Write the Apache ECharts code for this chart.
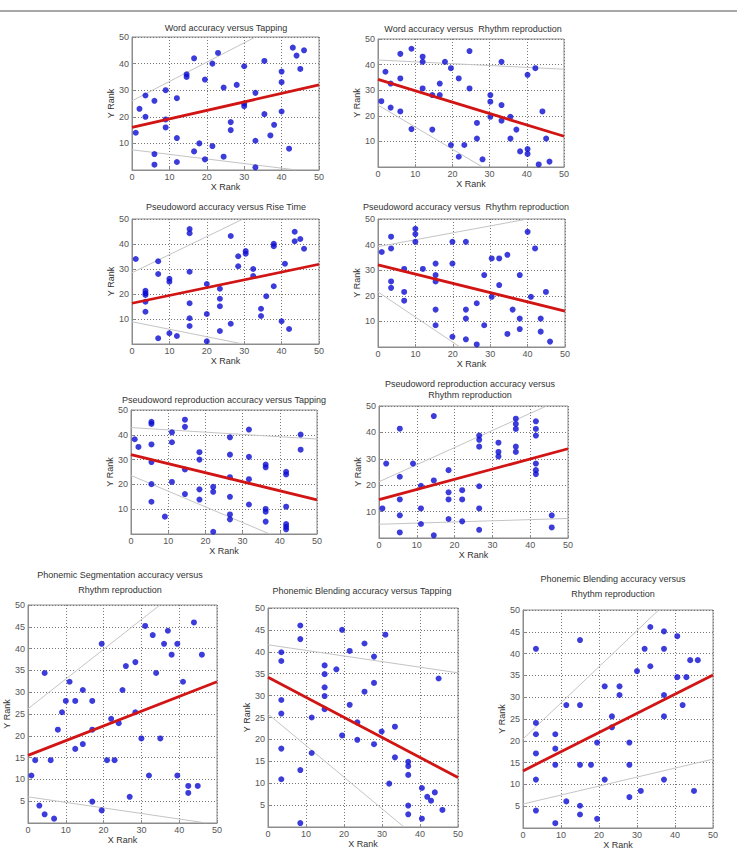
<!DOCTYPE html>
<html>
<head>
<meta charset="utf-8">
<title>Rank correlations</title>
<script src="https://cdn.jsdelivr.net/npm/echarts@6/dist/echarts.min.js"></script>
<style>
  html, body { margin: 0; padding: 0; background: #fff; }
  #main { width: 737px; height: 860px; }
</style>
</head>
<body>
<div id="main"></div>
<script>
// points are [x rank, y rank]
const wordTap = [[1,14],[2,23],[3.6,28],[3.6,20],[6,26],[6,6],[6,2],[9,30],[9,19],[9,16],[12,27],[12,12],[12,3],
  [14.6,36],[14.6,35],[16.6,42],[16.6,7],[18,10],[19.5,34],[19.5,4],[21.5,40],[21.5,9],[23,44],[24.5,31],[24.5,5],
  [26.4,18],[26.4,15],[28,32],[30,39],[30,25],[30,24],[33,29],[33,11],[33,1],[35.4,41],[35.4,21],[37,13],[38,17],
  [40,37],[40,33],[40,22],[42,8],[43,46],[44,43],[45,38],[46,45]];
const wordRhythm = [[0.9,25.7],[2,37.2],[3.4,32.6],[3.4,23.2],[6,44.2],[6,34.6],[6,21.7],[9,46.2],[9,14.8],
  [12,43.1],[12,41.1],[12,30.7],[14.6,28.1],[14.6,14.6],[16.6,32.6],[16.6,28.1],[18,41.1],[19.6,38.6],[19.6,8.6],
  [21.7,34.6],[21.7,4],[23.2,8.6],[24.6,45.3],[24.6,30.7],[26.6,17.2],[26.6,11.1],[28.1,3],[30.2,28.1],[30.2,25.5],
  [30.2,19.6],[33.2,41.1],[33.2,24.2],[33.2,18.1],[35.6,19.6],[35.6,11.1],[37.2,14.6],[38.2,6.1],[40.2,36],
  [40.2,7],[40.2,5.1],[42.3,38.6],[43.2,1],[44.2,21.7],[45.2,11.1],[46.1,2.1]];
const pseudoRise = [[1,34],[3.6,21.3],[3.6,20.3],[3.6,19.6],[3.6,16.9],[3.6,12.9],[7,33.1],[7,28],[7,2.3],
  [10,26.1],[10,24.9],[10,4.3],[12,3.2],[15.4,46],[15.4,44.3],[15.4,28.9],[15.4,16.3],[15.4,10.3],[15.4,7.2],
  [20,24],[20,12],[20,1.1],[23.5,22.1],[23.5,18.1],[23.5,15.1],[23.5,5.2],[26.4,43.2],[26.4,8.1],[28.4,35.1],
  [28.4,31.1],[30.4,37.2],[30.4,36.1],[32.4,30],[32.4,27.2],[34.5,14.1],[34.5,11.2],[35.9,19.1],[37.9,23.1],
  [37.9,40.1],[37.9,39.1],[40,9.1],[40.9,32.1],[42,6],[43.5,44.9],[43.5,41.1],[45,42],[46,38.1]];
const pseudoRhythm = [[1,37.1],[3.5,43.1],[3.5,38.5],[3.5,25.6],[3.5,23.1],[7,30.5],[7,21.5],[7,18.1],
  [10,46.2],[10,44.1],[10,41.1],[12,30.5],[15.4,32.6],[15.4,28.1],[15.4,25.6],[15.4,14.6],[15.4,8.5],
  [19.9,41.1],[19.9,32.6],[19.9,4],[23.5,41.1],[23.5,14.6],[23.5,11.1],[23.5,3],[26.4,17.1],[26.4,1],
  [28.4,28.1],[28.4,8.5],[30.4,34.6],[30.4,19.6],[32.4,34.6],[32.4,24.2],[34.6,36],[34.6,5.1],[36,14.6],
  [37.9,28.1],[37.9,11.1],[37.9,7],[40,45],[40.9,19.6],[42,38.5],[43.5,11.1],[43.5,6],[44.9,21.5],[46,2.1]];
const pseudoRepTap = [[1,38.2],[2,35.1],[5.5,45.2],[5.5,44.4],[5.5,36.1],[5.5,29],[5.5,20.1],[5.5,13],[9.1,7],
  [11,41],[11,37],[11,21],[14.5,46.1],[14.5,43.2],[14.5,26],[14.5,16.1],[18.4,33],[18.4,30],[18.4,18],[18.4,13.9],
  [22.1,19],[22.1,17],[22.1,0.9],[26.6,39],[26.6,32],[26.6,22.9],[26.6,15],[26.6,7.9],[26.6,5.9],[31.7,42.1],
  [31.7,31.1],[31.7,22.1],[31.7,11.9],[36.2,28],[36.2,26.9],[36.2,10.1],[36.2,9],[36.2,5],[41.7,25.1],[41.7,24],
  [41.7,11],[41.7,4],[41.7,2.9],[41.7,1.9],[45.6,40.1],[45.6,34]];
const pseudoRepRhythm = [[0.9,11.2],[1.9,28.2],[5.5,41.4],[5.5,23.2],[5.5,14.6],[5.5,8.6],[5.5,2.1],[9,28.2],
  [11.1,19.8],[11.1,11.2],[11.1,5.3],[14.5,46.2],[14.5,21.8],[14.5,1],[18.4,25.7],[18.4,17.3],[18.4,14.6],
  [18.4,7.2],[22,18.1],[22,14.6],[22,6.3],[26.5,38.8],[26.5,37.2],[26.5,34.6],[26.5,19.6],[26.5,11.2],[26.5,3.1],
  [31.6,36.1],[31.6,32.6],[31.6,30.9],[36.2,45.2],[36.2,43.2],[36.2,41.3],[36.2,34.6],[36.2,32.6],[41.5,44.2],
  [41.5,41.3],[41.5,38.8],[41.5,28.2],[41.5,25.7],[41.5,24.2],[45.7,8.6],[45.7,4]];
const segRhythm = [[0.9,10.9],[1.9,14.4],[3,4],[4.4,34.4],[4.4,2],[6,14.4],[6.9,1],[7.9,21.4],[9,25.4],[10,28],
  [11,32.4],[12.5,28],[12.5,17],[14.5,30.5],[14.5,18.1],[17,28],[17,21.4],[17,4.9],[19.5,41.1],[19.5,2.9],
  [20.9,14.4],[22,23.9],[22.9,14.4],[24,22.9],[25,30.5],[25.9,36],[26.9,6],[28.4,36.9],[28.4,25.4],[30,19.4],
  [31,45.2],[32,10.9],[33,43.1],[33.9,34.4],[35,19.4],[36,41.1],[37,44.1],[38,38.6],[39.5,41.1],[39.5,10.9],
  [41,32.4],[42.4,8.5],[42.4,6.9],[43.9,46],[44.9,8.5],[46,38.6]];
const blendTap = [[3.5,39.9],[3.5,37.9],[3.5,29],[3.5,25.9],[3.5,17.9],[3.5,10.9],[8.5,46],[8.5,42.9],[8.5,13],
  [8.5,0.9],[11.5,25],[11.5,16.9],[14.9,36.9],[14.9,34.9],[14.9,31.9],[14.9,29.9],[14.9,26.9],[18,36],[19.5,45],
  [19.5,20.9],[21.5,40.2],[21.5,27.9],[23.5,23.9],[23.5,19.9],[25.4,41.9],[25.4,30.9],[27.9,38.9],[27.9,32.9],
  [27.9,18.9],[29.9,21.8],[30.9,43.9],[31.9,9.9],[33.4,22.9],[33.4,15.9],[36.9,14.9],[36.9,13.9],[36.9,11.9],
  [36.9,4.9],[36.9,2.9],[40.5,8.9],[40.5,1.9],[41.9,6.9],[42.9,6],[43.9,7.9],[44.9,33.9],[45.9,3.9]];
const blendRhythm = [[3.4,41.1],[3.4,24.1],[3.4,21.5],[3.4,17.1],[3.4,11.1],[3.4,4],[8.5,21.5],[8.5,18.2],
  [8.5,14.5],[8.5,1.1],[11.4,28.2],[11.4,6.1],[15,43.1],[15,28.2],[15,14.5],[15,5.1],[15,3.1],[17.9,14.5],
  [19.5,19.6],[19.5,2.1],[21.5,32.5],[21.5,11.1],[23.4,25.6],[23.4,23.1],[25.4,32.5],[25.4,30.5],[28,19.6],
  [28,14.5],[28,7.1],[30,36],[31,8.5],[32,41.1],[33.5,46.1],[33.5,37.1],[37.1,45.1],[37.1,41.1],[37.1,30.5],
  [37.1,25.6],[37.1,11.1],[40.6,44],[40.6,34.6],[42,28.2],[43,34.6],[44,38.5],[45,8.5],[46,38.5]];

// regression line: y at x = 0 and x = 50
const fits = [[16,32],[34.2,12],[16.3,31.9],[32.1,14],[32,13.8],[14.5,33.8],[15.5,32.4],[34.2,11.3],[13.1,35.1]];
// upper and lower grey bounds, each as two [x, y] ends
const upperBounds = [[[0,26],[33,50]],[[0,41.8],[50,38.2]],[[0,28.5],[29.7,50]],[[0,39.2],[40,50]],
  [[0,42.9],[50,38.3]],[[0,21.3],[44.3,50]],[[0,26.2],[34.9,50]],[[0,41.6],[50,35.2]],[[0,20.4],[35.7,50]]];
const lowerBounds = [[[0,7.6],[44,0]],[[0,24.2],[28.1,0]],[[0,8.9],[29.7,0]],[[0,21.5],[21.9,0]],
  [[0,23.6],[37.3,0]],[[0,5.2],[50,7.4]],[[0,6],[47.2,0]],[[0,25.8],[35.8,0]],[[0,5.5],[50,15.8]]];

const titles = [
  'Word accuracy versus Tapping',
  'Word accuracy versus  Rhythm reproduction',
  'Pseudoword accuracy versus Rise Time',
  'Pseudoword accuracy versus  Rhythm reproduction',
  'Pseudoword reproduction accuracy versus Tapping',
  'Pseudoword reproduction accuracy versus\nRhythm reproduction',
  'Phonemic Segmentation accuracy versus\nRhythm reproduction',
  'Phonemic Blending accuracy versus Tapping',
  'Phonemic Blending accuracy versus\nRhythm reproduction'
];
const pointSets = [wordTap, wordRhythm, pseudoRise, pseudoRhythm, pseudoRepTap, pseudoRepRhythm,
  segRhythm, blendTap, blendRhythm];

// layout of each panel: plot box, title centre/top/line height, y step, name gaps
const panels = [
  { l: 132, t: 37, w: 187, h: 133, tx: 226, ty: 22.5, lh: 11, step: 10, xg: 12, yg: 12 },
  { l: 378, t: 39, w: 186, h: 128, tx: 473, ty: 23.5, lh: 11, step: 10, xg: 12, yg: 12 },
  { l: 132, t: 219, w: 187, h: 125, tx: 226, ty: 201, lh: 11, step: 10, xg: 12, yg: 12 },
  { l: 378, t: 219, w: 187, h: 128, tx: 466, ty: 201.5, lh: 11, step: 10, xg: 12, yg: 12 },
  { l: 131, t: 410, w: 186, h: 124, tx: 224, ty: 394.5, lh: 11, step: 10, xg: 12, yg: 12 },
  { l: 379, t: 406, w: 189, h: 132, tx: 470, ty: 378.5, lh: 11, step: 10, xg: 12, yg: 12 },
  { l: 28, t: 605, w: 189, h: 218, tx: 120, ty: 567.5, lh: 15, step: 5, xg: 11, yg: 13 },
  { l: 268, t: 608, w: 190, h: 219, tx: 362, ty: 585.5, lh: 11, step: 5, xg: 10, yg: 14 },
  { l: 523, t: 610, w: 190, h: 218, tx: 613, ty: 571.5, lh: 15, step: 5, xg: 11, yg: 13 }
];

const font = 'Liberation Sans, Arial, sans-serif';
const chart = echarts.init(document.getElementById('main'), null, { renderer: 'svg' });

const grid = [], xAxis = [], yAxis = [], title = [], series = [];
panels.forEach((p, i) => {
  grid.push({ left: p.l, top: p.t, width: p.w, height: p.h, show: true,
    borderColor: '#8c8c8c', borderWidth: 1, backgroundColor: '#fff' });
  title.push({
    text: titles[i], left: p.tx, top: p.ty, textAlign: 'center', padding: 0,
    textStyle: { fontSize: 9, fontWeight: 'normal', color: '#333', fontFamily: font, lineHeight: p.lh }
  });
  const common = {
    gridIndex: i, type: 'value', min: 0, max: 50,
    nameLocation: 'middle',
    nameTextStyle: { fontSize: 9, color: '#333', fontFamily: font },
    axisLine: { show: true, lineStyle: { color: '#8c8c8c', width: 1 } },
    axisTick: { show: true, inside: true, length: 3, lineStyle: { color: '#8c8c8c' } },
    splitLine: { show: true, lineStyle: { type: [1, 2], color: '#777', width: 1 } },
    showMinLabel: true, showMaxLabel: true
  };
  xAxis.push(Object.assign({}, common, {
    interval: 10, name: 'X Rank', nameGap: p.xg,
    axisLabel: { fontSize: 9, color: '#555', margin: 2.5, fontFamily: font }
  }));
  yAxis.push(Object.assign({}, common, {
    interval: p.step, name: 'Y Rank', nameGap: p.yg,
    axisLabel: { fontSize: 9, color: '#555', margin: 3, fontFamily: font,
      formatter: v => (v === 0 ? '' : String(v)) }
  }));
  const lineBase = { type: 'line', xAxisIndex: i, yAxisIndex: i, symbol: 'none', silent: true, animation: false };
  series.push(Object.assign({}, lineBase, { data: upperBounds[i], lineStyle: { color: '#c4c4c4', width: 1 }, z: 2 }));
  series.push(Object.assign({}, lineBase, { data: lowerBounds[i], lineStyle: { color: '#c4c4c4', width: 1 }, z: 2 }));
  series.push({
    type: 'scatter', xAxisIndex: i, yAxisIndex: i, data: pointSets[i],
    symbol: 'circle', symbolSize: 6, itemStyle: { color: '#0b0bd2' }, z: 3, animation: false
  });
  series.push(Object.assign({}, lineBase, {
    data: [[0, fits[i][0]], [50, fits[i][1]]], lineStyle: { color: '#d11414', width: 2.8 }, z: 4
  }));
});

chart.setOption({
  backgroundColor: '#fff',
  animation: false,
  title: title,
  grid: grid,
  xAxis: xAxis,
  yAxis: yAxis,
  series: series,
  graphic: [{
    type: 'line', shape: { x1: 0, y1: 11, x2: 737, y2: 11 },
    style: { stroke: '#8a8a8a', lineWidth: 1.5 }
  }]
});
</script>
</body>
</html>
